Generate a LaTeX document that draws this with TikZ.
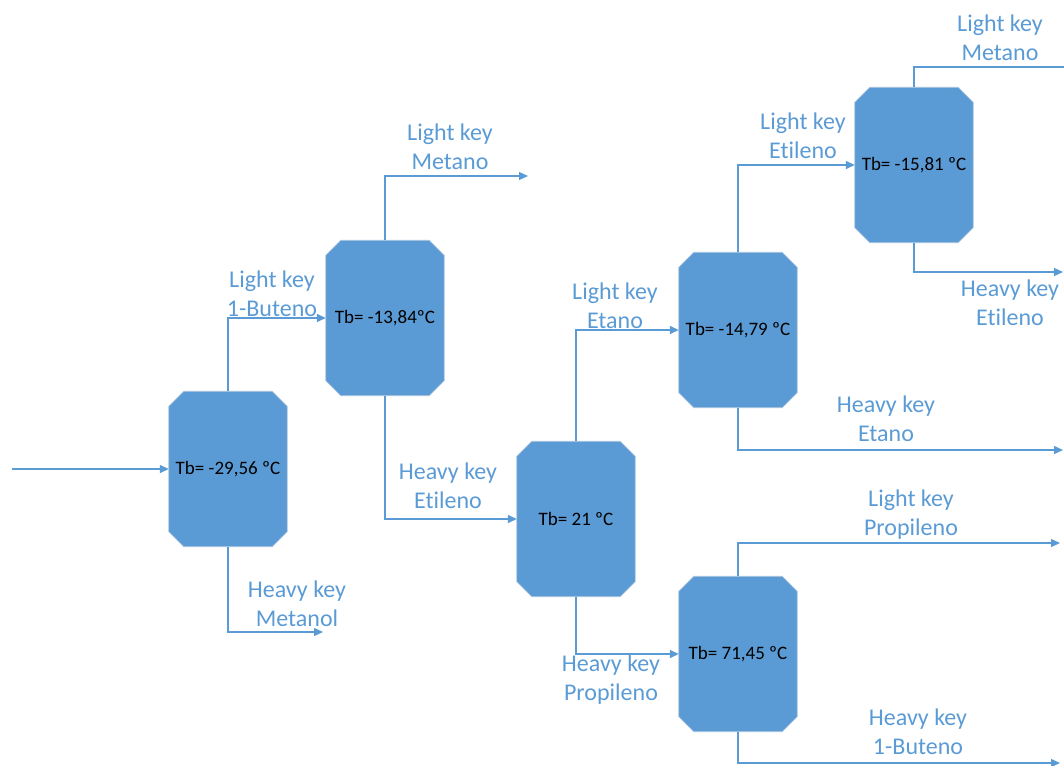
\documentclass[tikz,border=0pt]{standalone}
\usepackage{fontspec}
\setmainfont{Carlito}[Ligatures={NoCommon,NoRare}]
\usetikzlibrary{arrows.meta,backgrounds}
\definecolor{offblue}{RGB}{91,155,213}
\definecolor{boxedge}{RGB}{170,195,222}
\tikzset{
  column/.style={rectangle, minimum width=118pt, minimum height=155pt, inner sep=0pt,
    font=\fontsize{19}{22}\selectfont, text=black},
  lbl/.style={font=\fontsize{24}{29}\selectfont, text=offblue, align=center, inner sep=0pt},
  flow/.style={draw=offblue, line width=1.4pt, -{Triangle[length=9pt,width=8pt]}},
  chamfer/.style={fill=offblue, draw=boxedge, line width=0.8pt},
}
\newcommand{\chamferbox}[1]{%
  \path[chamfer] ([xshift=15pt]#1.north west) -- ([xshift=-15pt]#1.north east)
    -- ([yshift=-15pt]#1.north east) -- ([yshift=15pt]#1.south east)
    -- ([xshift=-15pt]#1.south east) -- ([xshift=15pt]#1.south west)
    -- ([yshift=15pt]#1.south west) -- ([yshift=-15pt]#1.north west) -- cycle;}
\begin{document}
\begin{tikzpicture}[x=1pt,y=-1pt]
\useasboundingbox (0,0) rectangle (1064,765);
% columns
\node[column] (b1) at (228,469) {Tb= -29,56 ºC};
\node[column] (b2) at (385,318) {Tb= -13,84ºC};
\node[column] (b3) at (576,519) {Tb= 21 ºC};
\node[column] (b4) at (738,330) {Tb= -14,79 ºC};
\node[column] (b5) at (914,165) {Tb= -15,81 ºC};
\node[column] (b6) at (738,654) {Tb= 71,45 ºC};
\begin{scope}[on background layer]
\chamferbox{b1}\chamferbox{b2}\chamferbox{b3}\chamferbox{b4}\chamferbox{b5}\chamferbox{b6}
\end{scope}
% free ends
\coordinate (feed) at (12,469);
\coordinate (o1) at (323,632);
\coordinate (o2) at (528,176);
\coordinate (o3) at (1063,450);
\coordinate (o4) at (1075,67);
\coordinate (o5) at (1063,272);
\coordinate (o6) at (1060,543);
\coordinate (o7) at (1060,763);
% connectors
\draw[flow] (feed) -- (b1.west);
\draw[flow] (b1.north) |- (b2.west);
\draw[flow] (b1.south) |- (o1);
\draw[flow] (b2.north) |- (o2);
\draw[flow] (b2.south) |- (b3.west);
\draw[flow] (b3.north) |- (b4.west);
\draw[flow] (b3.south) |- (b6.west);
\draw[flow] (b4.north) |- (b5.west);
\draw[flow] (b4.south) |- (o3);
\draw[flow] (b5.north) |- (o4);
\draw[flow] (b5.south) |- (o5);
\draw[flow] (b6.north) |- (o6);
\draw[flow] (b6.south) |- (o7);
% labels
\node[lbl] (l1) at (272,294) {Light key\\1-Buteno};
\node[lbl] (l2) at (297,604) {Heavy key\\Metanol};
\node[lbl] (l3) at (450,147) {Light key\\Metano};
\node[lbl] (l4) at (448,486) {Heavy key\\Etileno};
\node[lbl] (l5) at (615,306) {Light key\\Etano};
\node[lbl] (l6) at (611,680) {Heavy key\\Propileno};
\node[lbl] (l7) at (803,136) {Light key\\Etileno};
\node[lbl] (l8) at (886,419) {Heavy key\\Etano};
\node[lbl] (l9) at (1000,38) {Light key\\Metano};
\node[lbl] (l10) at (1010,303) {Heavy key\\Etileno};
\node[lbl] (l11) at (911,515) {Light key\\Propileno};
\node[lbl] (l12) at (918,732) {Heavy key\\1-Buteno};
\end{tikzpicture}
\end{document}
